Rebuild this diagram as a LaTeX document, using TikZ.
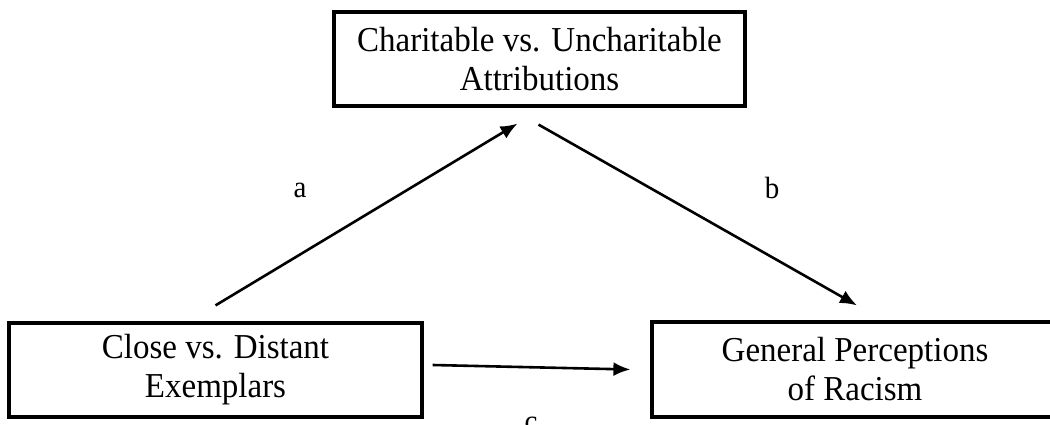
\documentclass[tikz,border=0pt]{standalone}
\usepackage{fontspec}
\setmainfont{Liberation Serif}
\usetikzlibrary{arrows.meta,calc}
\newcommand{\tall}[1]{\scalebox{1}[1.06]{#1}}
\begin{document}
\begin{tikzpicture}[x=1pt,y=-1pt,
  box/.style={draw, line width=3.2pt, inner sep=0pt, align=center,
    font=\fontsize{33}{39}\selectfont},
  conn/.style={line width=2.6pt, -{Latex[length=17pt,width=14pt]}},
  lab/.style={font=\fontsize{29}{32}\selectfont, inner sep=0pt}]
\useasboundingbox (0,0) rectangle (1050,425);
\fill[white] (0,0) rectangle (1050,425);
\node[box, minimum width=411pt, minimum height=94pt] (T) at (539.5,59) {\tall{Charitable vs. Uncharitable}\\\tall{Attributions}};
\node[box, minimum width=413pt, minimum height=94pt] (L) at (215.5,370) {\tall{Close vs. Distant}\\\tall{Exemplars}};
\node[box, minimum width=406pt, minimum height=95pt] (R) at (855,369.5) {\tall{General Perceptions}\\\tall{of Racism}};
\coordinate (aS) at ($(L.north)+(0,-16)$);
\coordinate (aE) at ($(T.south)+(-22,16)$);
\coordinate (bS) at ($(T.south)+(-1,17)$);
\coordinate (bE) at ($(R.north)+(2,-15)$);
\coordinate (cS) at ($(L.east)+(9,-5)$);
\coordinate (cE) at ($(R.west)+(-20,0)$);
\draw[conn] (aS) -- (aE);
\draw[conn] (bS) -- (bE);
\draw[conn] (cS) -- (cE);
\node[lab] (la) at (300,190) {\tall{a}};
\node[lab] (lb) at (772,188) {\tall{b}};
\node[lab] (lc) at (531,424) {\tall{c}};
\end{tikzpicture}
\end{document}
